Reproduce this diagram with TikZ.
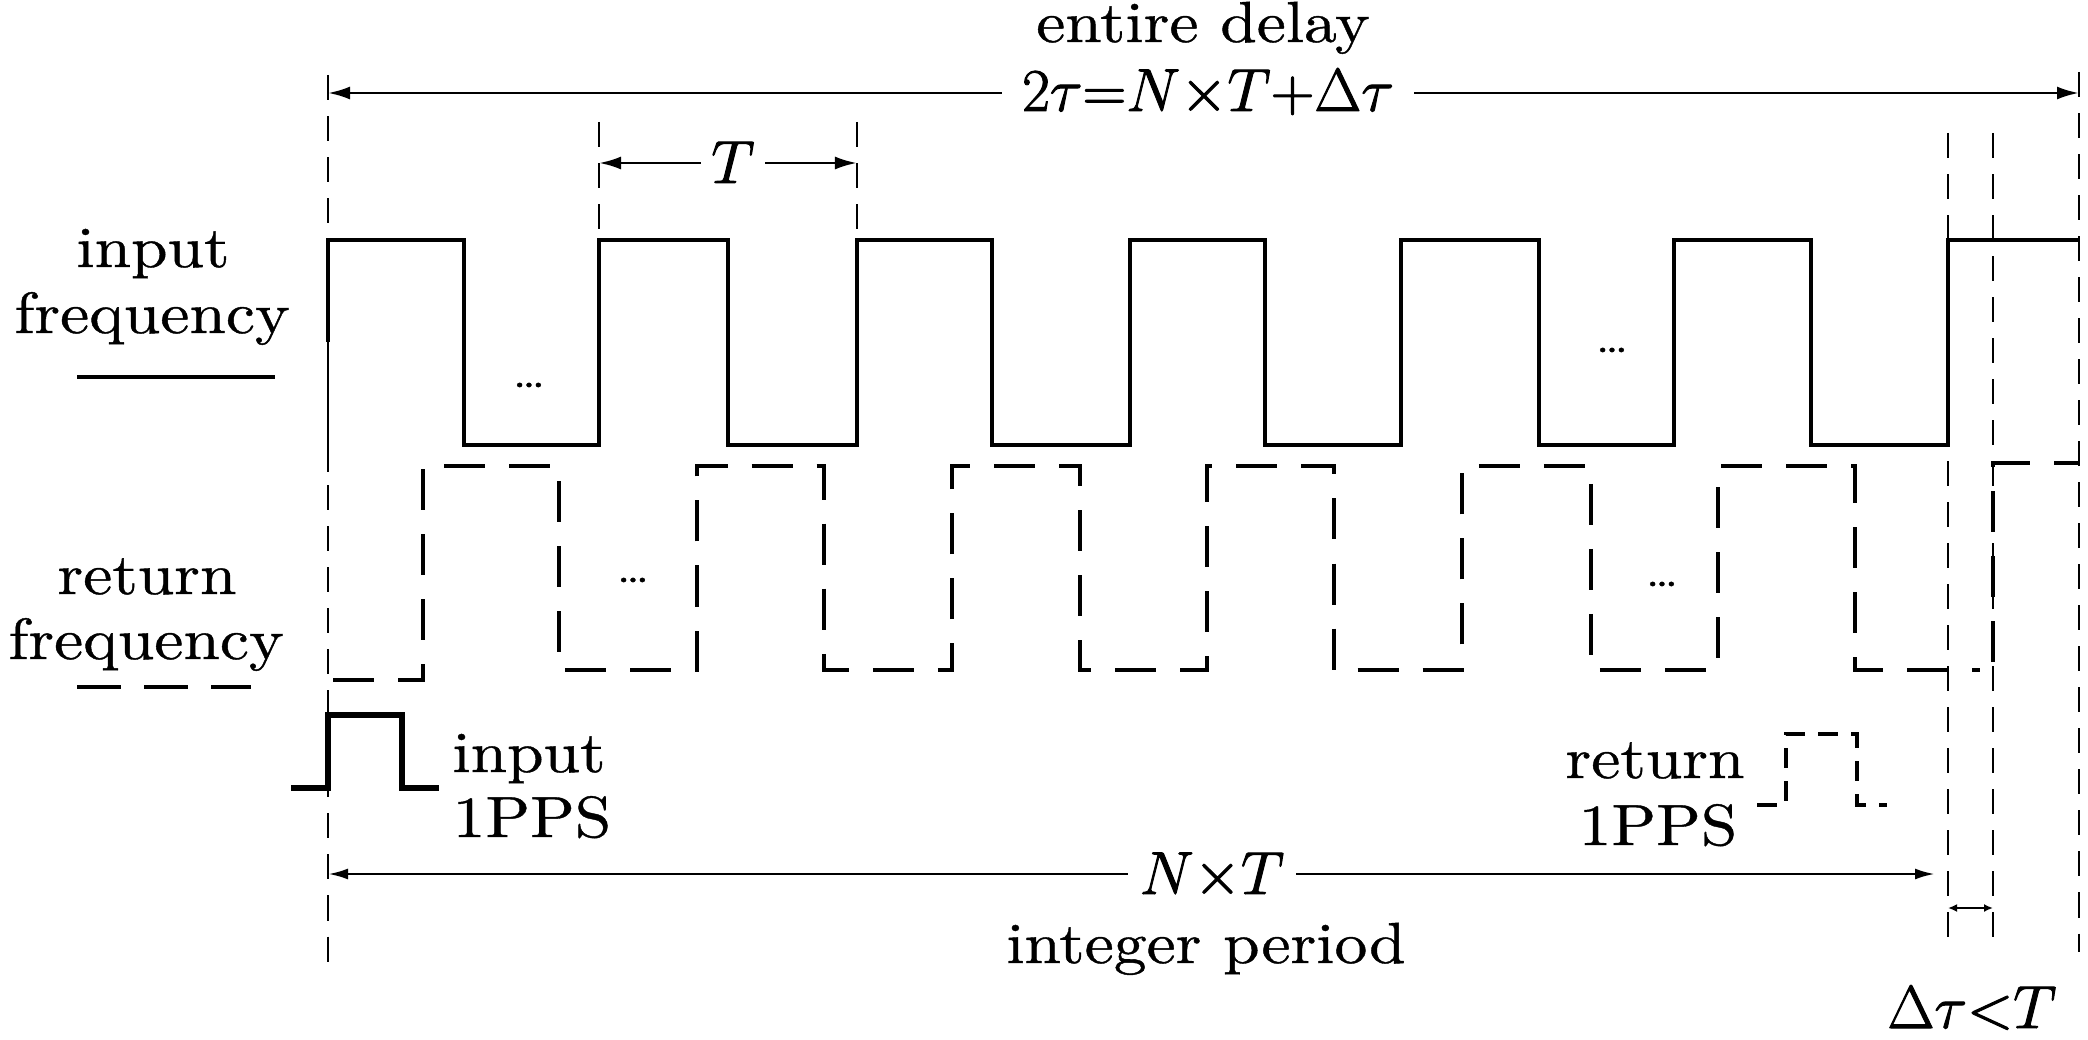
\documentclass[tikz,border=0pt]{standalone}
\usepackage{graphicx}
\usepackage{fontspec}
\setmainfont{lmroman10-regular.otf}[FakeBold=0.7, FakeStretch=1.13]
\usetikzlibrary{arrows.meta}
\newcommand{\wtxt}[1]{#1}
\newcommand{\hvm}[1]{\special{pdf:literal q 2 Tr 0.28 w}#1\special{pdf:literal Q}}
\begin{document}
\begin{tikzpicture}[x=0.01cm,y=-0.01cm,
  font=\fontsize{16.5}{19}\selectfont,
  inwave/.style={line width=1.15pt, line join=miter},
  ppswave/.style={line width=1.5pt, line join=miter},
  retwave/.style={line width=1.15pt, dash pattern=on 0.41cm off 0.24cm},
  retpps/.style={line width=1.15pt, dash pattern=on 0.2cm off 0.13cm},
  refline/.style={line width=0.75pt, dash pattern=on 0.25cm off 0.16cm},
  dimarrow/.style={line width=0.8pt, {Latex[length=0.22cm,width=0.13cm]}-{Latex[length=0.22cm,width=0.13cm]}},
  smallarrow/.style={line width=0.7pt, {Latex[length=0.09cm,width=0.08cm]}-{Latex[length=0.09cm,width=0.08cm]}},
  lbl/.style={anchor=base, inner sep=0pt},
  gaplbl/.style={anchor=base, fill=white, inner xsep=0.12cm, inner ysep=0pt},
  dotsl/.style={font=\fontsize{12}{12}\selectfont\bfseries, inner sep=0pt}
]
\useasboundingbox (0,0) rectangle (2088,1040);

% reference dashed lines
\coordinate (L0t) at (328,75);   \coordinate (L0b) at (328,966);
\coordinate (T1t) at (599,122);  \coordinate (T1b) at (599,234);
\coordinate (T2t) at (857,122);  \coordinate (T2b) at (857,234);
\coordinate (D1t) at (1948,133); \coordinate (D1b) at (1948,943);
\coordinate (D2t) at (1993,133); \coordinate (D2b) at (1993,937);
\coordinate (Rt) at (2079,72);   \coordinate (Rb) at (2079,952);
\draw[refline] (L0t) -- (L0b);
\draw[refline] (T1t) -- (T1b);
\draw[refline] (T2t) -- (T2b);
\draw[refline] (D1t) -- (D1b);
\draw[refline] (D2t) -- (D2b);
\draw[refline] (Rt) -- (Rb);
\coordinate (L0s1) at (328,342); \coordinate (L0s2) at (328,472);
\draw[line width=0.75pt] (L0s1) -- (L0s2);

% input frequency (solid)
\draw[inwave] (328,342) -- (328,240) -- (464,240) -- (464,445) -- (599,445) -- (599,240)
  -- (728,240) -- (728,445) -- (857,445) -- (857,240) -- (992,240) -- (992,445)
  -- (1130,445) -- (1130,240) -- (1265,240) -- (1265,445) -- (1401,445) -- (1401,240)
  -- (1539,240) -- (1539,445) -- (1674,445) -- (1674,240) -- (1811,240) -- (1811,445)
  -- (1948,445) -- (1948,240) -- (2079,240);

% return frequency (dashed)
\draw[retwave] (333,680) -- (423,680) -- (423,466) -- (559,466) -- (559,670) -- (697,670)
  -- (697,466) -- (824,466) -- (824,670) -- (952,670) -- (952,466) -- (1080,466)
  -- (1080,670) -- (1207,670) -- (1207,466) -- (1334,466) -- (1334,670) -- (1462,670)
  -- (1462,466) -- (1591,466) -- (1591,670) -- (1718,670) -- (1718,466) -- (1855,466)
  -- (1855,670) -- (1980,670);
\draw[retwave] (1993,662) -- (1993,463) -- (2079,463);

% legends
\coordinate (lgs1) at (77,377); \coordinate (lgs2) at (275,377);
\draw[line width=1.3pt] (lgs1) -- (lgs2);
\coordinate (lgd1) at (77,687); \coordinate (lgd2) at (251,687);
\draw[line width=1.3pt, dash pattern=on 0.44cm off 0.23cm] (lgd1) -- (lgd2);

% 1PPS pulses
\draw[ppswave] (291,788) -- (328,788) -- (328,715) -- (402,715) -- (402,788) -- (439,788);
\draw[retpps] (1757,805) -- (1786,805) -- (1786,734) -- (1857,734) -- (1857,805) -- (1887,805);

% dimension arrows
\coordinate (ta1) at (328,93);  \coordinate (ta2) at (2079,93);
\draw[dimarrow] (ta1) -- (ta2);
\coordinate (tt1) at (599,163); \coordinate (tt2) at (857,163);
\draw[dimarrow] (tt1) -- (tt2);
\coordinate (na1) at (328,874); \coordinate (na2) at (1935,874);
\draw[dimarrow, {Latex[length=0.2cm,width=0.11cm]}-{Latex[length=0.2cm,width=0.11cm]}] (na1) -- (na2);
\coordinate (da1) at (1948,908); \coordinate (da2) at (1993,908);
\draw[smallarrow] (da1) -- (da2);

% labels
\node[lbl] (entire) at (1203,42) {\wtxt{entire delay}};
\node[gaplbl, inner xsep=0.2cm] (formula) at (1208,111) {\hvm{$2\tau{=}N{\times}T{+}\Delta\tau$}};
\node[gaplbl, inner xsep=0.1cm] (Tlbl) at (733,183) {\hvm{$T$}};
\node[gaplbl] (NTlbl) at (1212,894) {\hvm{$N{\times}T$}};
\node[lbl] (intper) at (1206,963) {\wtxt{integer period}};
\node[lbl] (dtlbl) at (1972,1028) {\hvm{$\Delta\tau{<}T$}};

\node[lbl] (in1) at (153,267) {\wtxt{input}};
\node[lbl] (in2) at (152,333) {\wtxt{frequency}};
\node[lbl] (re1) at (147,594) {\wtxt{return}};
\node[lbl] (re2) at (146,659) {\wtxt{frequency}};

\node[lbl] (ip1) at (529,772) {\wtxt{input}};
\node[lbl] (ip2) at (532,837) {\wtxt{1PPS}};
\node[lbl] (rp1) at (1655,778) {\wtxt{return}};
\node[lbl] (rp2) at (1658,845) {\wtxt{1PPS}};

% ellipses
\node[dotsl] (d1) at (529,385) {\ldots};
\node[dotsl] (d2) at (1612,350) {\ldots};
\node[dotsl] (d3) at (633,580) {\ldots};
\node[dotsl] (d4) at (1662,584) {\ldots};
\end{tikzpicture}
\end{document}
